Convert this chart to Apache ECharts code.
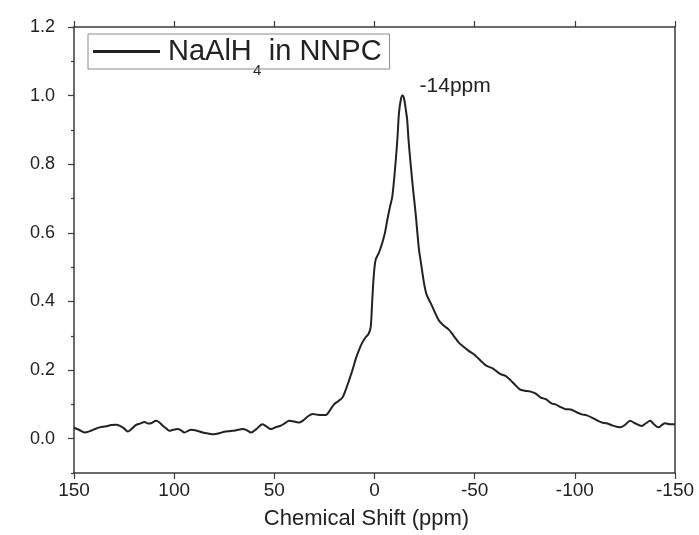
<!DOCTYPE html>
<html>
<head>
<meta charset="utf-8">
<script src="https://cdn.jsdelivr.net/npm/echarts@6/dist/echarts.min.js"></script>
<style>
  html, body { margin: 0; padding: 0; background: #fff; }
  #chart { width: 699px; height: 535px; }
</style>
</head>
<body>
<div id="chart"></div>
<script>
// 27Al MAS NMR spectrum of NaAlH4 confined in NNPC
const shiftPpm = [
  150, 147.5, 144.7, 142, 140, 137.2, 134, 131.4, 129, 127.3, 125, 123.2, 121, 119, 117,
  114.8, 113, 111.5, 109, 107.5, 105.7, 104, 102.4, 100.5, 98.3, 96.5, 94.9, 93, 91.6, 89,
  85.8, 83, 80, 77.5, 75, 72.5, 70.8, 68, 65.9, 63.5, 61.7, 59, 55.9, 54, 51.7, 49, 46.7,
  44.5, 42.6, 40, 37.6, 35, 33, 31, 28.5, 26, 24.3, 22, 20.2, 18, 16, 14.5, 12.7, 11, 9.4,
  7.5, 6.1, 4.5, 3, 1.9, 1.1, 0.3, -0.6, -2.2, -3.9, -5.2, -6.4, -7.7, -8.9, -10.5, -11.5,
  -12.2, -13.2, -14, -14.8, -15.6, -16.3, -17, -18, -19.2, -20.5, -22.2, -23, -24.7, -26,
  -28, -30, -32.1, -34.5, -37.1, -39.5, -42.1, -44, -47, -49.6, -52, -54, -56, -59, -62.9,
  -65.4, -68, -70, -72.5, -75, -77.5, -80.3, -83, -85.5, -88.6, -90.3, -93, -95.3, -98,
  -100.5, -103.5, -106, -109, -111.5, -113.5, -116, -119, -122.7, -125, -127.6, -130,
  -133.4, -135.5, -137.6, -139.5, -141.7, -143.5, -145, -147.5, -150
];
const intensity = [
  0.032, 0.026, 0.018, 0.022, 0.027, 0.033, 0.036, 0.040, 0.041, 0.038, 0.030, 0.021, 0.030, 0.040, 0.044,
  0.049, 0.044, 0.045, 0.052, 0.048, 0.038, 0.030, 0.023, 0.026, 0.028, 0.024, 0.018, 0.023, 0.026, 0.024,
  0.018, 0.015, 0.013, 0.016, 0.020, 0.022, 0.023, 0.026, 0.028, 0.024, 0.018, 0.028, 0.042, 0.036, 0.028, 0.034, 0.038,
  0.046, 0.052, 0.050, 0.047, 0.056, 0.066, 0.072, 0.070, 0.069, 0.069, 0.085, 0.100, 0.110, 0.120, 0.140, 0.170, 0.200, 0.232,
  0.262, 0.280, 0.295, 0.305, 0.325, 0.406, 0.480, 0.522, 0.542, 0.571, 0.600, 0.638, 0.675, 0.706, 0.803, 0.880,
  0.948, 0.990, 1.000, 0.990, 0.960, 0.930, 0.870, 0.803, 0.730, 0.658, 0.551, 0.520, 0.454, 0.420,
  0.396, 0.370, 0.345, 0.330, 0.318, 0.300, 0.280, 0.270, 0.256, 0.246, 0.233, 0.222, 0.212, 0.205, 0.188,
  0.183, 0.170, 0.158, 0.144, 0.140, 0.138, 0.132, 0.120, 0.115, 0.102, 0.100, 0.092, 0.086, 0.085,
  0.078, 0.071, 0.068, 0.060, 0.052, 0.047, 0.045, 0.038, 0.033, 0.040, 0.052, 0.045,
  0.037, 0.045, 0.052, 0.042, 0.033, 0.040, 0.045, 0.042, 0.042
];
const peakShift = -14;
const peakIntensity = 1.0;
const peakLabel = '-14ppm';
const yMajorTicks = [0, 0.2, 0.4, 0.6, 0.8, 1.0, 1.2];
const yMinorTicks = [-0.1, 0.1, 0.3, 0.5, 0.7, 0.9, 1.1];

const spectrum = shiftPpm.map((x, i) => [x, intensity[i]]);

const FONT = 'Liberation Sans, Arial, sans-serif';
const AXIS_COLOR = '#3a3a3a';
const TEXT_COLOR = '#222';

const chart = echarts.init(document.getElementById('chart'), null, { renderer: 'canvas' });

const xCommon = {
  type: 'value', min: -150, max: 150, interval: 50, inverse: true,
  splitLine: { show: false },
  axisLine: { show: true, onZero: false, lineStyle: { color: AXIS_COLOR, width: 1.5 } },
  axisTick: { show: true, inside: false, length: 6, lineStyle: { color: AXIS_COLOR, width: 1.2 } }
};
const yCommon = {
  type: 'value', min: -0.1, max: 1.2,
  splitLine: { show: false },
  axisLine: { show: true, onZero: false, lineStyle: { color: AXIS_COLOR, width: 1.5 } }
};

chart.setOption({
  animation: false,
  backgroundColor: '#fff',
  textStyle: { fontFamily: FONT },
  grid: { left: 74, right: 24, top: 27, bottom: 61, containLabel: false },
  legend: {
    show: true,
    left: 88, top: 34,
    padding: [3, 8, 3, 5],
    borderColor: '#8a8a8a', borderWidth: 1,
    itemWidth: 67, itemHeight: 3, icon: 'rect',
    data: [{ name: 'NaAlH4 in NNPC', itemStyle: { color: '#222' } }],
    // the subscript "4" is drawn separately as a graphic below the baseline
    formatter: () => '{a|NaAlH}{g|}{a|in NNPC}',
    textStyle: {
      color: TEXT_COLOR,
      rich: {
        a: { fontSize: 29, fontFamily: FONT, color: TEXT_COLOR, lineHeight: 37, padding: [0, 0, 0, 3] },
        g: { width: 14, height: 10 }
      }
    }
  },
  graphic: [{
    type: 'text', left: 253, top: 63, silent: true,
    style: { text: '4', font: '15px Liberation Sans, Arial, sans-serif', fill: TEXT_COLOR }
  }],
  xAxis: [
    Object.assign({}, xCommon, {
      position: 'bottom',
      name: 'Chemical Shift (ppm)', nameLocation: 'middle', nameGap: 35,
      nameTextStyle: { color: TEXT_COLOR, fontSize: 22, fontFamily: FONT, padding: [0, 16, 0, 0] },
      axisLabel: { show: true, color: TEXT_COLOR, fontSize: 19, fontFamily: FONT, margin: 8 }
    }),
    Object.assign({}, xCommon, {
      position: 'top',
      axisLabel: { show: false }
    })
  ],
  yAxis: [
    Object.assign({}, yCommon, {
      position: 'left',
      axisTick: { show: true, inside: false, length: 6, customValues: yMajorTicks,
                  lineStyle: { color: AXIS_COLOR, width: 1.2 } },
      axisLabel: { show: true, color: TEXT_COLOR, fontSize: 18, fontFamily: FONT, margin: 19,
                   customValues: yMajorTicks, formatter: v => v.toFixed(1) }
    }),
    Object.assign({}, yCommon, {
      position: 'left',
      axisLine: { show: false, onZero: false },
      axisTick: { show: true, inside: false, length: 3, customValues: yMinorTicks,
                  lineStyle: { color: AXIS_COLOR, width: 1.2 } },
      axisLabel: { show: false }
    }),
    Object.assign({}, yCommon, {
      position: 'right',
      axisTick: { show: false },
      axisLabel: { show: false }
    })
  ],
  series: [{
    name: 'NaAlH4 in NNPC',
    type: 'line',
    xAxisIndex: 0, yAxisIndex: 0,
    data: spectrum,
    showSymbol: false,
    smooth: 0.3,
    lineStyle: { color: '#222', width: 2 },
    itemStyle: { color: '#222' },
    markPoint: {
      symbol: 'circle', symbolSize: 0,
      data: [{ coord: [peakShift, peakIntensity], value: peakLabel }],
      label: {
        show: true, position: 'right', offset: [12, -9],
        formatter: peakLabel, color: TEXT_COLOR, fontSize: 21, fontFamily: FONT
      }
    }
  }]
});
</script>
</body>
</html>
